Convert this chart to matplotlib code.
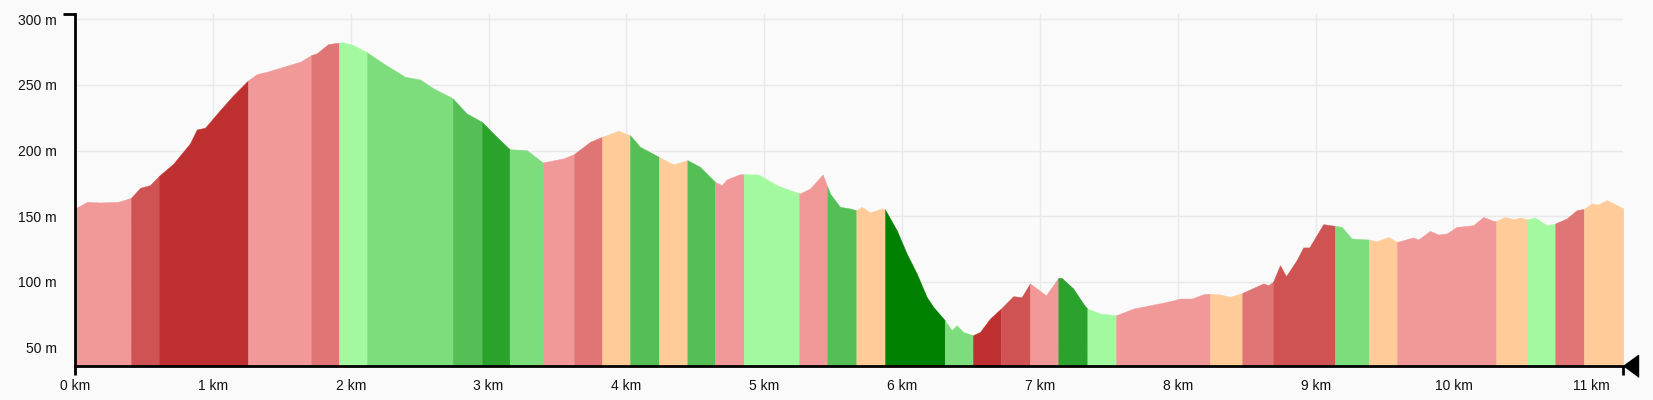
import numpy as np
import matplotlib
matplotlib.use("Agg")
import matplotlib.pyplot as plt
from matplotlib.lines import Line2D

plt.rcParams['font.family'] = ['Liberation Sans', 'DejaVu Sans']

# ---- data: elevation profile ----
dist_km = [0.000, 0.089, 0.181, 0.314, 0.406, 0.472, 0.544, 0.609, 0.713, 0.834,
           0.883, 0.943, 1.052, 1.148, 1.255, 1.318, 1.391, 1.511, 1.632, 1.714,
           1.753, 1.837, 1.915, 1.946, 2.019, 2.118, 2.236, 2.394, 2.503, 2.599,
           2.720, 2.740, 2.841, 2.952, 3.059, 3.153, 3.277, 3.393, 3.542, 3.620,
           3.736, 3.823, 3.941, 4.026, 4.099, 4.236, 4.340, 4.442, 4.534, 4.643,
           4.691, 4.728, 4.824, 4.957, 5.090, 5.187, 5.259, 5.332, 5.424, 5.477,
           5.549, 5.622, 5.668, 5.707, 5.767, 5.852, 5.876, 5.961, 6.033, 6.106,
           6.178, 6.226, 6.309, 6.360, 6.396, 6.444, 6.514, 6.565, 6.638, 6.717,
           6.806, 6.867, 6.928, 7.044, 7.133, 7.158, 7.242, 7.314, 7.343, 7.436,
           7.552, 7.677, 7.798, 7.919, 8.016, 8.101, 8.185, 8.234, 8.306, 8.379,
           8.468, 8.620, 8.656, 8.691, 8.741, 8.785, 8.862, 8.910, 8.954, 9.055,
           9.140, 9.189, 9.261, 9.384, 9.443, 9.527, 9.590, 9.708, 9.745, 9.829,
           9.890, 9.951, 10.023, 10.144, 10.216, 10.289, 10.310, 10.374, 10.434, 10.482,
           10.535, 10.591, 10.676, 10.738, 10.821, 10.893, 10.946, 11.003, 11.050, 11.111,
           11.171, 11.232]
elev_m = [156.0, 161.0, 160.5, 161.0, 164.0, 171.6, 173.7, 180.7, 190.0, 205.4,
          216.0, 217.3, 230.7, 242.0, 253.3, 258.1, 259.9, 263.7, 267.5, 272.6,
          273.9, 281.0, 282.0, 282.3, 280.2, 274.7, 266.3, 256.1, 254.0, 247.3,
          240.9, 239.6, 228.2, 221.8, 210.4, 201.0, 200.3, 190.9, 194.0, 197.3,
          206.6, 210.4, 215.0, 211.7, 202.8, 195.2, 189.4, 192.7, 187.6, 176.2,
          173.7, 178.0, 182.0, 181.8, 173.7, 169.9, 167.3, 171.1, 181.8, 167.3,
          157.2, 155.9, 154.6, 157.2, 152.9, 155.9, 155.2, 139.4, 121.7, 106.5,
          88.7, 81.1, 71.0, 63.3, 67.1, 62.0, 59.5, 62.0, 72.2, 79.8,
          89.2, 88.5, 98.9, 89.9, 103.1, 103.1, 95.0, 83.6, 79.8, 76.0,
          74.7, 79.8, 82.3, 84.8, 87.4, 87.4, 90.7, 91.2, 90.5, 88.7,
          91.7, 98.9, 97.6, 100.1, 112.8, 104.4, 116.6, 126.3, 126.3, 144.0,
          142.7, 142.0, 133.1, 132.3, 131.0, 134.3, 130.5, 133.9, 132.3, 138.9,
          136.1, 136.9, 141.9, 143.2, 149.5, 146.5, 146.5, 149.5, 147.8, 149.1,
          147.6, 149.1, 143.2, 144.5, 148.3, 154.6, 155.6, 159.7, 158.9, 162.3,
          159.2, 156.0]

# ---- data: gradient segments ----
seg_bounds_km = [0.0, 0.406, 0.609, 1.255, 1.714, 1.915, 2.118, 2.740, 2.952, 3.153,
                 3.393, 3.620, 3.823, 4.026, 4.236, 4.442, 4.643, 4.851, 5.254, 5.457,
                 5.668, 5.876, 6.309, 6.514, 6.717, 6.928, 7.133, 7.344, 7.552, 8.234,
                 8.468, 8.691, 9.140, 9.385, 9.590, 10.310, 10.535, 10.738, 10.946, 11.232]
seg_class = ['up1', 'up3', 'up4', 'up1', 'up2', 'dn1', 'dn2', 'dn3', 'dn4', 'dn2',
             'up1', 'up2', 'flat', 'dn3', 'flat', 'dn3', 'up1', 'dn1', 'up1', 'dn3',
             'flat', 'dn5', 'dn2', 'up4', 'up3', 'up1', 'dn4', 'dn1', 'up1', 'flat',
             'up2', 'up3', 'dn2', 'flat', 'up1', 'flat', 'dn1', 'up2', 'flat']

grade_colors = {
    'flat': '#ffcc99',
    'up1': '#f19999', 'up2': '#e07575', 'up3': '#d05353', 'up4': '#be3030',
    'dn1': '#a3f9a0', 'dn2': '#7ddd7d', 'dn3': '#55bf55', 'dn4': '#2ba22b', 'dn5': '#008000',
}

x_ticks_km = list(range(0, 12))
y_ticks_m = [50, 100, 150, 200, 250, 300]
y_min, y_max = 36.1, 303.6

# ---- figure ----
W, H = 1653, 400
fig = plt.figure(figsize=(W / 100, H / 100), dpi=100, facecolor='#fafafa')
left, right, bottom, top = 75 / W, 1623.3 / W, 1 - 366 / H, 1 - 14.3 / H
ax = fig.add_axes([left, bottom, right - left, top - bottom], facecolor='#fafafa')

d = np.array(dist_km)
e = np.array(elev_m)
for i, cls in enumerate(seg_class):
    a, b = seg_bounds_km[i], seg_bounds_km[i + 1]
    inner = d[(d > a) & (d < b)]
    xs = np.concatenate([[a], inner, [b]])
    ys = np.interp(xs, d, e)
    c = grade_colors[cls]
    ax.fill_between(xs, y_min, ys, facecolor=c, edgecolor=c, linewidth=0.3, zorder=2)

ax.set_xlim(0, dist_km[-1])
ax.set_ylim(y_min, y_max)
ax.set_xticks(x_ticks_km)
ax.set_xticklabels([f'{k} km' for k in x_ticks_km])
ax.set_yticks(y_ticks_m)
ax.set_yticklabels([f'{v} m' for v in y_ticks_m])
ax.grid(True, color='#e9e9e9', linewidth=1.0, zorder=0)
ax.set_axisbelow(True)
ax.tick_params(axis='both', length=0, labelsize=10, colors='#111111')
ax.tick_params(axis='y', pad=13)
ax.tick_params(axis='x', pad=9)
for s in ['top', 'right']:
    ax.spines[s].set_visible(False)
for s in ['left', 'bottom']:
    ax.spines[s].set_color('black')
    ax.spines[s].set_linewidth(2.0)
    ax.spines[s].set_zorder(5)

# axis end caps
axw = (right - left) * W
axh = (top - bottom) * H
ax.add_line(Line2D([-12 / axw, 0], [1, 1], transform=ax.transAxes, color='black',
                   linewidth=2.0, clip_on=False, solid_capstyle='butt'))
ax.add_line(Line2D([0, 0], [0, -9 / axh], transform=ax.transAxes, color='black',
                   linewidth=2.0, clip_on=False, solid_capstyle='butt'))
ax.add_line(Line2D([1, 1], [0, -9 / axh], transform=ax.transAxes, color='black',
                   linewidth=2.0, clip_on=False, solid_capstyle='butt'))
# end-of-track triangle marker
tri = [(0, 0), (1, 0.73), (1, -0.73)]
ax.plot([1], [0], transform=ax.transAxes, marker=tri, markersize=21.6, color='black',
        clip_on=False, zorder=6, linestyle='none')

fig.savefig('out.png', dpi=100, facecolor=fig.get_facecolor())
